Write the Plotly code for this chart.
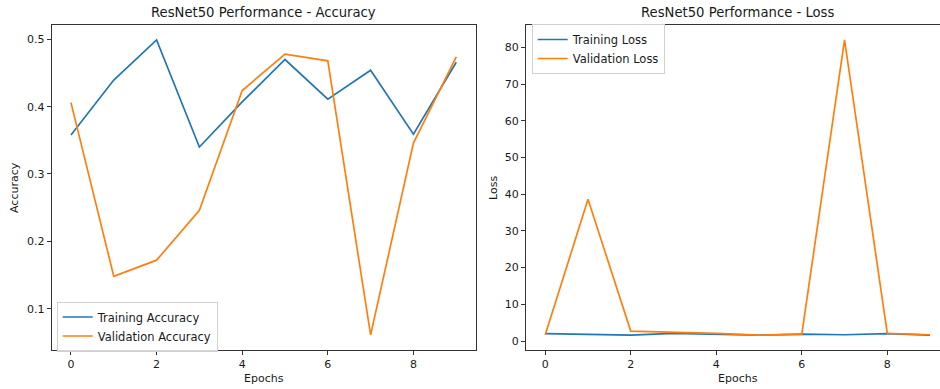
import plotly.graph_objects as go

epochs = list(range(10))
train_acc = [0.358, 0.4395, 0.499, 0.340, 0.407, 0.470, 0.411, 0.454, 0.359, 0.466]
val_acc = [0.406, 0.148, 0.172, 0.246, 0.424, 0.478, 0.468, 0.061, 0.346, 0.474]
train_loss = [2.0, 1.8, 1.6, 2.1, 1.9, 1.6, 1.9, 1.7, 2.0, 1.6]
val_loss = [1.7, 38.6, 2.7, 2.5, 2.1, 1.6, 1.8, 82.0, 2.1, 1.7]
acc_ticks = [0.1, 0.2, 0.3, 0.4, 0.5]
loss_ticks = [0, 10, 20, 30, 40, 50, 60, 70, 80]
x_ticks = [0, 2, 4, 6, 8]

W, H = 940, 389
BLUE, ORANGE = "#1f77b4", "#ff7f0e"
FONT = "DejaVu Sans"
TXT = "#1a1a1a"

fig = go.Figure()
fig.add_trace(go.Scatter(x=epochs, y=train_acc, mode="lines", name="Training Accuracy",
                         line=dict(color=BLUE, width=1.7), xaxis="x", yaxis="y", legend="legend"))
fig.add_trace(go.Scatter(x=epochs, y=val_acc, mode="lines", name="Validation Accuracy",
                         line=dict(color=ORANGE, width=1.7), xaxis="x", yaxis="y", legend="legend"))
fig.add_trace(go.Scatter(x=epochs, y=train_loss, mode="lines", name="Training Loss",
                         line=dict(color=BLUE, width=1.7), xaxis="x2", yaxis="y2", legend="legend2"))
fig.add_trace(go.Scatter(x=epochs, y=val_loss, mode="lines", name="Validation Loss",
                         line=dict(color=ORANGE, width=1.7), xaxis="x2", yaxis="y2", legend="legend2"))

# pixel geometry
L1, R1 = 51.7, 475.5
L2, R2 = 526.0, 940.0
TOP, BOT = 24.7, 350.0

axis_common = dict(showgrid=False, zeroline=False, showline=True, linecolor="#333333",
                   linewidth=1, mirror=True, ticks="outside", ticklen=4, tickwidth=1,
                   tickcolor="#333333", tickfont=dict(family=FONT, size=11, color=TXT))

ydom = [1 - BOT / H, 1 - TOP / H]
legend_common = dict(xanchor="left", yanchor="middle",
                     bgcolor="rgba(255,255,255,0.8)", bordercolor="#d0d0d0", borderwidth=1,
                     font=dict(family=FONT, size=11.5, color=TXT), itemwidth=30)
fig.update_layout(
    width=W, height=H, margin=dict(l=0, r=0, t=0, b=0),
    paper_bgcolor="white", plot_bgcolor="white",
    font=dict(family=FONT, size=11, color=TXT),
    xaxis=dict(domain=[L1 / W, R1 / W], range=[-0.45, 9.45], tickvals=x_ticks,
               anchor="y", **axis_common),
    yaxis=dict(domain=ydom, range=[0.0386, 0.5217], tickvals=acc_ticks,
               tickformat=".1f", anchor="x", **axis_common),
    xaxis2=dict(domain=[L2 / W, R2 / W], range=[-0.45, 9.233], tickvals=x_ticks,
                anchor="y2", **axis_common),
    yaxis2=dict(domain=ydom, range=[-2.45, 86.16], tickvals=loss_ticks,
                anchor="x2", **axis_common),
    legend=dict(x=56.7 / W, y=1 - 326.5 / H, **legend_common),
    legend2=dict(x=531.7 / W, y=1 - 49 / H, **legend_common),
    showlegend=True,
)

c1 = (L1 + R1) / 2
c2 = (L2 + 949.3) / 2
ann = [
    dict(text="ResNet50 Performance - Accuracy", x=c1 / W, y=1 - 13 / H, size=13.2),
    dict(text="ResNet50 Performance - Loss", x=c2 / W, y=1 - 13 / H, size=13.2),
    dict(text="Epochs", x=c1 / W, y=1 - 378 / H, size=11),
    dict(text="Epochs", x=c2 / W, y=1 - 378 / H, size=11),
]
for a in ann:
    fig.add_annotation(text=a["text"], x=a["x"], y=a["y"], xref="paper", yref="paper",
                       xanchor="center", yanchor="middle", showarrow=False,
                       font=dict(family=FONT, size=a["size"], color=TXT))
for text, xp in [("Accuracy", 14.0), ("Loss", 493.0)]:
    fig.add_annotation(text=text, x=xp / W, y=1 - 188 / H, xref="paper", yref="paper",
                       xanchor="center", yanchor="middle", showarrow=False, textangle=-90,
                       font=dict(family=FONT, size=11, color=TXT))

fig.write_html("out.html")
